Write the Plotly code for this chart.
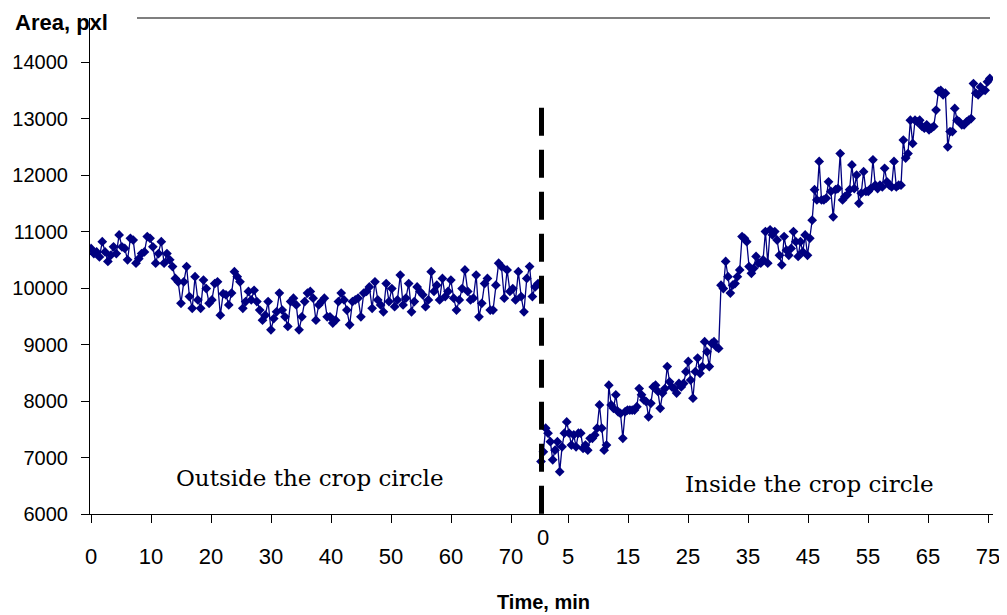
import numpy as np
import plotly.graph_objects as go

# ---------------- data ----------------
# Outside the crop circle, area in pxl, time 0 .. ~74.5 min
outside_area = [
    10700, 10610, 10640, 10550, 10820, 10640, 10470, 10580, 10730, 10610,
    10940, 10730, 10700, 10500, 10880, 10850, 10440, 10520, 10610, 10640,
    10910, 10880, 10730, 10440, 10610, 10820, 10440, 10610, 10500, 10380,
    10170, 10110, 9730, 10110, 10380, 9850, 9640, 10200, 9790, 9640,
    10140, 9990, 9730, 9790, 10080, 10110, 9520, 9900, 9880,
    9700, 9910, 10290, 10200, 10110, 9640, 9760, 9940, 9790, 9960,
    9760, 9610, 9430, 9520, 9760, 9260, 9460, 9580, 9910, 9610,
    9490, 9320, 9760, 9820, 9700, 9260, 9490, 9760, 9910, 9940,
    9820, 9430, 9700, 9760, 9820, 9490, 9490, 9380, 9430, 9760,
    9910, 9790, 9610, 9350, 9760, 9790, 9820, 9490, 9910, 9940, 10020,
    9640, 10110, 9790, 9700, 9580, 10080, 9760, 9990, 9670, 9790,
    10230, 9700, 9820, 10080, 9580, 9760, 10020, 9940, 9880, 9670,
    9790, 10290, 9940, 10050, 9790, 10170, 9850, 9940, 10140, 9820,
    9610, 9790, 9990, 10320, 9940, 9790, 9820, 10230, 9490, 9730,
    10080, 10170, 9610, 9610, 10050, 10440, 10380, 9820, 10320, 9940,
    9990, 9790, 10290, 9850, 9580, 10170, 10380, 9850, 10020, 10080,
]

# Inside the crop circle, area in pxl, time ~0.5 .. ~75.3 min
inside_area = [
    6930, 7100, 7520, 7430, 7280, 6960, 7130, 7280, 6750, 7190,
    7430, 7630, 7430, 7220, 7400, 7190, 7430, 7430, 7160, 7220,
    7130, 7340, 7340, 7400, 7520, 7930, 7520, 7130, 7220, 8280,
    7930, 7870, 8110, 7810, 7780, 7340, 7810, 7840, 7840, 7840,
    7840, 7900, 8220, 8110, 8020, 7990, 7720, 7960, 8250, 8280,
    8170, 7870, 8140, 8220, 8610, 8340, 8250, 8220, 8140, 8310,
    8250, 8310, 8520, 8700, 8370, 8050, 8520, 8760, 8490, 8610,
    9050, 8870, 8610, 9020, 9050, 8960, 8930,
    10050, 9990, 10470, 10200, 9910, 10050, 10080, 10200, 10320, 10910,
    10880, 10820, 10380, 10260, 10350, 10560, 10440, 10440, 10500, 11000,
    10440, 11030, 10940, 11000, 10850, 10580, 10410, 10910, 10670, 10580,
    10700, 11000, 10820, 10560, 10820, 10640,
    10940, 10580, 10880, 11200, 11740, 11560, 12240, 11560, 11560, 11590,
    11880, 11710, 11260, 11740, 11760, 12380, 11560, 11620, 11650, 11740,
    12180, 11760, 12000, 11500, 11680, 12060, 11710, 11710, 11760, 12270,
    11820, 11760, 11820, 11790, 12120, 11880, 11820, 11790, 12240, 11790,
    11820, 11820,
    12620, 12300, 12380, 12970, 12560, 12970, 12940, 12970, 12860, 12830,
    12890, 12800, 12830, 12860, 13150, 13480, 13500, 13420, 13450, 12500,
    12770, 12770, 13180, 12970, 12940, 12890, 12890, 12940, 12970, 13000,
    13620, 13450, 13420, 13560, 13500, 13500, 13650, 13710,
]

outside_span = (0.0, 74.5)     # minutes covered by the first recording
inside_span = (0.5, 75.3)      # minutes covered by the second recording
inside_offset = 74.5           # where the second time axis starts on the shared axis

left_ticks = [0, 10, 20, 30, 40, 50, 60, 70]
right_ticks = [5, 15, 25, 35, 45, 55, 65, 75]
y_ticks = [6000, 7000, 8000, 9000, 10000, 11000, 12000, 13000, 14000]

# ---------------- figure ----------------
navy = "#000080"
t_out = np.linspace(outside_span[0], outside_span[1], len(outside_area))
t_in = np.linspace(inside_span[0], inside_span[1], len(inside_area)) + inside_offset

marker = dict(symbol="diamond", size=7.5, color=navy)
fig = go.Figure()
fig.add_trace(go.Scatter(x=t_out, y=outside_area, mode="lines+markers",
                         line=dict(color=navy, width=1.3), marker=marker,
                         showlegend=False, hoverinfo="x+y"))
fig.add_trace(go.Scatter(x=t_in, y=inside_area, mode="lines+markers",
                         line=dict(color=navy, width=1.3), marker=marker,
                         showlegend=False, hoverinfo="x+y"))

tickvals = left_ticks + [inside_offset + v for v in right_ticks]
ticktext = [str(v) for v in left_ticks] + [str(v) for v in right_ticks]

# the page body adds an 8 px offset, so the figure is 8 px smaller on each side
fig.update_layout(
    width=999, height=607,
    margin=dict(l=82, r=14, t=10, b=101),
    paper_bgcolor="white", plot_bgcolor="white",
    font=dict(family="Liberation Sans, Arial, sans-serif", color="black"),
    xaxis=dict(range=[-0.17, 150.33], tickvals=tickvals, ticktext=ticktext,
               showgrid=False, zeroline=False, showline=True, linecolor="black",
               linewidth=1.2, ticks="outside", ticklen=8, tickcolor="black",
               tickfont=dict(size=22, color="black"), ticklabelstandoff=14,
               automargin=False),
    yaxis=dict(range=[6000, 14780], tickvals=y_ticks,
               ticktext=[str(v) for v in y_ticks],
               showgrid=False, zeroline=False, showline=True, linecolor="black",
               linewidth=1.2, ticks="outside", ticklen=8, tickcolor="black",
               tickfont=dict(size=20, color="black"), ticklabelstandoff=9,
               automargin=False),
)

# dashed separator between the two recordings
fig.add_shape(type="line", xref="x", yref="y",
              x0=inside_offset + 0.58, x1=inside_offset + 0.58, y0=13190, y1=6000,
              line=dict(color="black", width=5, dash="28px,14px"))
# top border line
fig.add_shape(type="line", xref="paper", yref="paper",
              x0=0.052, x1=0.9967, y0=1, y1=1,
              line=dict(color="black", width=1.2))

fig.add_annotation(x=inside_offset + 0.9, y=-0.048, xref="x", yref="paper",
                   text="0", showarrow=False, xanchor="center", yanchor="middle",
                   font=dict(size=22, color="black"))
fig.add_annotation(x=0.5017, y=-0.177, xref="paper", yref="paper",
                   text="<b>Time, min</b>", showarrow=False,
                   xanchor="center", yanchor="middle", font=dict(size=20))
fig.add_annotation(x=-0.0853, y=1.0195, xref="paper", yref="paper",
                   text="<b>Area, pxl</b>", showarrow=False,
                   xanchor="left", yanchor="top", font=dict(size=22))
fig.add_annotation(x=36.5, y=6637, xref="x", yref="y",
                   text="Outside the crop circle", showarrow=False,
                   font=dict(family="DejaVu Serif", size=23, color="black"))
fig.add_annotation(x=119.8, y=6531, xref="x", yref="y",
                   text="Inside the crop circle", showarrow=False,
                   font=dict(family="DejaVu Serif", size=23, color="black"))

fig.write_html("out.html")
